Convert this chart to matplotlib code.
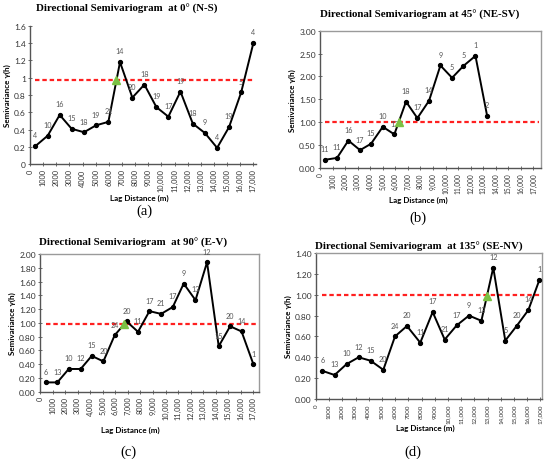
import matplotlib
matplotlib.use("Agg")
import matplotlib.pyplot as plt
from matplotlib.ticker import FixedLocator, FormatStrFormatter

# ---- data (lag in m, semivariance, pair counts) ----
lag_a = [410, 1345, 2260, 3170, 4110, 5025, 5965, 6850, 7790, 8705, 9620,
         10530, 11450, 12390, 13320, 14240, 15150, 16070, 17000]
gam_a = [0.21, 0.33, 0.57, 0.41, 0.37, 0.45, 0.49, 1.18, 0.77, 0.92, 0.66,
         0.55, 0.84, 0.47, 0.36, 0.19, 0.43, 0.83, 1.40]
npr_a = [4, 10, 16, 15, 18, 19, 21, 14, 20, 18, 19, 17, 19, 18, 9, 4, 19, 5, 4]
sill_a = 0.975
range_a = (6550, 0.97)

lag_b = [400, 1355, 2260, 3190, 4065, 5000, 5920, 6850, 7755, 8685, 9590,
         10520, 11420, 12380, 13310]
gam_b = [0.18, 0.22, 0.60, 0.39, 0.53, 0.90, 0.735, 1.45, 1.09, 1.47, 2.24,
         1.97, 2.23, 2.45, 1.14]
npr_b = [11, 11, 16, 17, 15, 10, 13, 18, 17, 14, 9, 5, 5, 1, 2]
sill_b = 1.0
range_b = (6295, 1.0)

lag_c = [450, 1380, 2290, 3240, 4120, 5050, 5950, 6900, 7810, 8720, 9650,
         10580, 11450, 12390, 13310, 14240, 15150, 16060, 17000]
gam_c = [0.135, 0.135, 0.33, 0.33, 0.52, 0.44, 0.82, 1.02, 0.87, 1.17, 1.13,
         1.23, 1.57, 1.33, 1.88, 0.66, 0.95, 0.875, 0.40]
npr_c = [6, 13, 10, 12, 15, 20, 24, 20, 11, 17, 21, 17, 9, 13, 12, 15, 20, 14, 1]
sill_c = 0.99
range_c = (6720, 0.98)

lag_d = [480, 1410, 2320, 3230, 4140, 5100, 5985, 6890, 7900, 8840, 9750,
         10660, 11590, 12530, 13430, 14340, 15200, 16090, 16920]
gam_d = [0.27, 0.23, 0.335, 0.40, 0.367, 0.28, 0.60, 0.70, 0.54, 0.834, 0.57,
         0.706, 0.80, 0.75, 1.26, 0.56, 0.70, 0.853, 1.14]
npr_d = [6, 13, 10, 12, 15, 20, 24, 20, 11, 17, 21, 17, 9, 13, 12, 5, 20, 14, 1]
sill_d = 1.0
range_d = (12950, 0.99)

xticks = list(range(0, 17001, 1000))
xlab_a = ["0"] + [str(v) for v in range(1000, 10000, 1000)] + \
         [f"{v:,}" for v in range(10000, 17001, 1000)]
xlab_b = ["0", "1000"] + [f"{v:,}" for v in range(2000, 8000, 1000)] + \
         ["8000"] + [f"{v:,}" for v in range(9000, 17001, 1000)]
xlab_c = ["0", "1000", "2000", "3000"] + \
         [f"{v:,}" for v in range(4000, 8000, 1000)] + \
         ["8000"] + [f"{v:,}" for v in range(9000, 17001, 1000)]
xlab_d = xlab_a

titles = ["Directional Semivariogram  at 0° (N-S)",
          "Directional Semivariogram at 45° (NE-SV)",
          "Directional Semivariogram  at 90° (E-V)",
          "Directional Semivariogram  at 135° (SE-NV)"]
captions = ["(a)", "(b)", "(c)", "(d)"]

W, H = 550, 460
SANS = ["Lato", "DejaVu Sans"]
SERIF = ["Liberation Serif", "DejaVu Serif"]


def px_axes(fig, left, top, right, bottom):
    return fig.add_axes([left / W, 1 - bottom / H, (right - left) / W, (bottom - top) / H])


def draw_panel(ax, lag, gam, npr, sill, rng, xlim, ylim, ystep, yfmt, xlabels,
               boxed, xfs):
    ax.plot(lag, gam, color="black", lw=1.4, marker="o", ms=2.8, zorder=3)
    ax.plot([lag[0], xlim[1] - 150], [sill, sill], color="#ff2020", lw=1.6,
            dashes=(2.0, 1.3), zorder=2)
    ax.plot([rng[0]], [rng[1]], marker="^", color="#7ac143", ms=5.5,
            ls="none", zorder=4)
    for x, y, n in zip(lag, gam, npr):
        ax.annotate(str(n), (x, y), xytext=(0, 5.5), textcoords="offset points",
                    ha="center", va="bottom", fontsize=5.2, color="#555555",
                    family=SANS)
    ax.set_xlim(*xlim)
    ax.set_ylim(*ylim)
    ax.xaxis.set_major_locator(FixedLocator(xticks))
    ax.set_xticklabels(xlabels, rotation=90, fontsize=xfs, color="#333333",
                       family=SANS)
    yt = []
    v = ylim[0]
    while v <= ylim[1] + 1e-9:
        yt.append(round(v, 4))
        v += ystep
    ax.set_yticks(yt)
    if yfmt is None:
        ax.set_yticklabels([f"{t:g}" for t in yt])
    else:
        ax.yaxis.set_major_formatter(FormatStrFormatter(yfmt))
    for lab in ax.get_yticklabels():
        lab.set_fontsize(6)
        lab.set_color("#333333")
        lab.set_family(SANS)
    ax.tick_params(axis="both", direction="inout", length=3, width=0.6,
                   color="#555555", pad=1.5)
    ax.set_ylabel("Semivariance γ(h)", fontsize=5.8, fontweight="bold",
                  family=SANS, labelpad=2)
    for s in ax.spines.values():
        s.set_color("#9a9a9a")
        s.set_linewidth(1.0)
    ax.spines["left"].set_color("#555555")
    ax.spines["bottom"].set_color("#555555")
    if not boxed:
        ax.spines["top"].set_visible(False)
        ax.spines["right"].set_visible(False)


fig = plt.figure(figsize=(W / 100, H / 100), dpi=100)
fig.patch.set_facecolor("white")

ax_a = px_axes(fig, 30, 26.7, 256, 165.3)
draw_panel(ax_a, lag_a, gam_a, npr_a, sill_a, range_a, (0, 17200), (0, 1.6),
           0.2, None, xlab_a, False, 5.3)
ax_b = px_axes(fig, 320, 31.7, 541, 169)
draw_panel(ax_b, lag_b, gam_b, npr_b, sill_b, range_b, (0, 17600), (0, 3.0),
           0.5, "%.2f", xlab_b, True, 4.7)
ax_c = px_axes(fig, 40, 255, 259, 392.7)
draw_panel(ax_c, lag_c, gam_c, npr_c, sill_c, range_c, (0, 17450), (0, 2.0),
           0.2, "%.2f", xlab_c, True, 5.3)
ax_d = px_axes(fig, 316, 254, 541.7, 400)
draw_panel(ax_d, lag_d, gam_d, npr_d, sill_d, range_d, (0, 17100), (0, 1.4),
           0.2, "%.2f", xlab_d, True, 4.5)

# titles, x labels, captions placed in pixel space like the source figure
title_pos = [(127, 8.5), (420, 15), (133, 243), (419, 247)]
xlabel_pos = [(139, 198), (418, 200), (130, 430), (425, 428)]
caption_pos = [(144, 211), (418, 218), (128, 452), (413, 452)]
for t, (x, y) in zip(titles, title_pos):
    fig.text(x / W, 1 - y / H, t, ha="center", va="center", fontsize=7.8,
             fontweight="bold", family=SERIF)
for (x, y) in xlabel_pos:
    fig.text(x / W, 1 - y / H, "Lag Distance (m)", ha="center", va="center",
             fontsize=5.8, fontweight="bold", family=SANS)
for c, (x, y) in zip(captions, caption_pos):
    fig.text(x / W, 1 - y / H, c, ha="center", va="center", fontsize=10.5,
             family=SERIF)

fig.savefig("out.png", dpi=100)
